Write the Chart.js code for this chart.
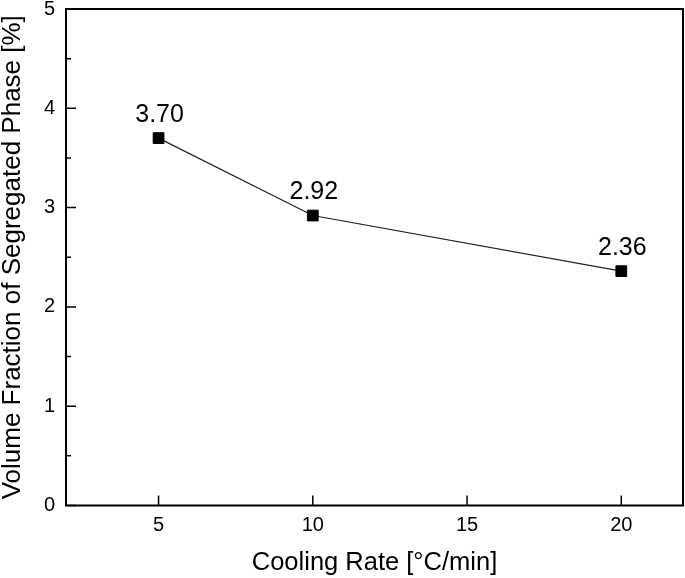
<!DOCTYPE html>
<html>
<head>
<meta charset="utf-8">
<script src="https://cdn.jsdelivr.net/npm/chart.js@4.4.1/dist/chart.umd.min.js"></script>
<style>
html,body{margin:0;padding:0;background:#fff;}
#wrap{width:685px;height:578px;position:relative;}
</style>
</head>
<body>
<div id="wrap"><canvas id="c" width="685" height="578"></canvas></div>
<script>
const coolingRates = [5, 10, 20];
const volumeFractions = [3.70, 2.92, 2.36];
const valueLabels = ['3.70', '2.92', '2.36'];
const xTicks = [5, 10, 15, 20];
const yTicks = [0, 1, 2, 3, 4, 5];
const yMinorTicks = [0.5, 1.5, 2.5, 3.5, 4.5];
const xTitle = 'Cooling Rate [°C/min]';
const yTitle = 'Volume Fraction of Segregated Phase [%]';

const FONT = '"Liberation Sans", Arial, Helvetica, sans-serif';

const framePlugin = {
  id: 'frame',
  afterDraw(chart) {
    const {ctx, chartArea: a, scales: {x, y}} = chart;
    ctx.save();
    ctx.strokeStyle = '#000';
    // ticks (inward)
    ctx.lineWidth = 1.5;
    ctx.beginPath();
    xTicks.forEach(v => {
      const px = x.getPixelForValue(v);
      ctx.moveTo(px, a.bottom); ctx.lineTo(px, a.bottom - 10);
    });
    yTicks.forEach(v => {
      const py = y.getPixelForValue(v);
      ctx.moveTo(a.left, py); ctx.lineTo(a.left + 10, py);
    });
    yMinorTicks.forEach(v => {
      const py = y.getPixelForValue(v);
      ctx.moveTo(a.left, py); ctx.lineTo(a.left + 5, py);
    });
    ctx.stroke();
    // box
    ctx.lineWidth = 2;
    ctx.strokeRect(a.left, a.top, a.right - a.left, a.bottom - a.top);
    ctx.restore();
  },
  afterDatasetsDraw(chart) {
    const {ctx} = chart;
    const meta = chart.getDatasetMeta(0);
    ctx.save();
    ctx.fillStyle = '#000';
    ctx.font = '25px ' + FONT;
    ctx.textAlign = 'center';
    ctx.textBaseline = 'alphabetic';
    meta.data.forEach((pt, i) => {
      ctx.fillText(valueLabels[i], pt.x + 1, pt.y - 16.5);
    });
    ctx.restore();
  }
};

new Chart(document.getElementById('c'), {
  type: 'scatter',
  data: {
    datasets: [{
      data: coolingRates.map((v, i) => ({x: v, y: volumeFractions[i]})),
      showLine: true,
      borderColor: '#222',
      borderWidth: 1.2,
      pointStyle: 'rect',
      pointRadius: 7.6,
      pointHoverRadius: 7.6,
      pointBackgroundColor: '#000',
      pointBorderColor: '#000',
      pointBorderWidth: 1
    }]
  },
  options: {
    responsive: false,
    animation: false,
    events: [],
    layout: {autoPadding: false, padding: {top: 9, right: 2, left: 0, bottom: 0}},
    plugins: {legend: {display: false}, tooltip: {enabled: false}},
    scales: {
      x: {
        type: 'linear',
        min: 2, max: 22,
        grid: {display: false, drawTicks: false},
        border: {display: false},
        afterBuildTicks: s => { s.ticks = xTicks.map(v => ({value: v})); },
        afterFit: s => { s.height = 72.5; s.paddingLeft = 0; s.paddingRight = 0; },
        ticks: {color: '#000', font: {family: FONT, size: 20}, padding: 8, maxRotation: 0, autoSkip: false},
        title: {display: true, text: xTitle, color: '#000', font: {family: FONT, size: 25.5, lineHeight: 1}, padding: {top: 0, bottom: 2}}
      },
      y: {
        type: 'linear',
        min: 0, max: 5,
        grid: {display: false, drawTicks: false},
        border: {display: false},
        afterBuildTicks: s => { s.ticks = yTicks.map(v => ({value: v})); },
        afterFit: s => { s.width = 66; s.paddingTop = 0; s.paddingBottom = 0; },
        ticks: {color: '#000', font: {family: FONT, size: 20}, padding: 11, autoSkip: false},
        title: {display: true, text: yTitle, color: '#000', font: {family: FONT, size: 26, lineHeight: 1}, padding: {top: 0, bottom: 0}}
      }
    }
  },
  plugins: [framePlugin]
});
</script>
</body>
</html>
